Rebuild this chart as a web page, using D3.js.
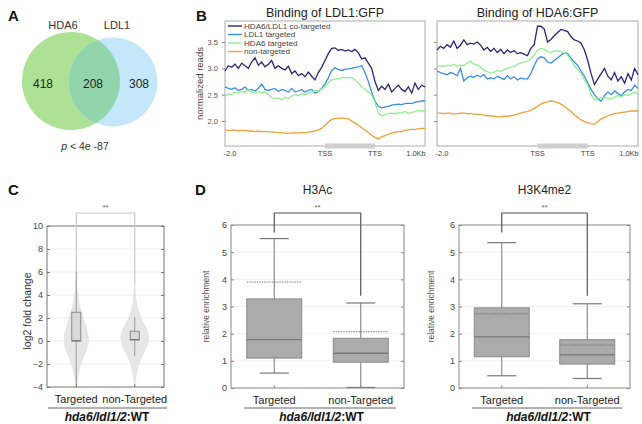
<!DOCTYPE html>
<html><head><meta charset="utf-8">
<script src="https://cdn.jsdelivr.net/npm/d3@7"></script>
<style>body{margin:0;background:#fff;} svg{display:block;font-family:"Liberation Sans",Arial,sans-serif;}</style>
</head><body><svg id="c" width="642" height="424"></svg>
<script>
// ================= DATA =================
// Panel A (Venn)
const vennSets = ["HDA6", "LDL1"];
const vennCounts = [418, 208, 308];          // HDA6 only, shared, LDL1 only
const vennPValue = "4e -87";

// Panel B (metagene profiles): 61 bins, -2.0kb..TSS (0-30), TSS..TTS (30-45), TTS..+1.0kb (45-60)
const profileSeries = ["HDA6/LDL1 co-targeted", "LDL1 targeted", "HDA6 targeted", "non-targeted"];
const profileXTicks = ["-2.0", "TSS", "TTS", "1.0Kb"];
const profileYTicks = [2.0, 2.5, 3.0, 3.5];

const ldl1CoTargeted = [2.95,3.05,3.02,3.08,3.0,3.1,3.05,3.0,3.12,3.2,3.06,3.12,3.03,3.08,3.15,3.0,3.05,3.0,2.97,3.04,2.9,2.95,2.86,2.9,2.84,2.93,2.85,2.78,2.92,3.02,3.15,
  3.28,3.38,3.39,3.34,3.36,3.33,3.35,3.32,3.36,3.3,3.18,3.2,3.1,3.0,2.75,
  2.58,2.66,2.6,2.7,2.55,2.62,2.68,2.6,2.56,2.65,2.53,2.72,2.6,2.68,2.65];
const ldl1Ldl1Targeted = [2.65,2.62,2.6,2.63,2.58,2.6,2.65,2.58,2.6,2.57,2.62,2.7,2.6,2.58,2.6,2.62,2.56,2.6,2.58,2.55,2.62,2.55,2.57,2.6,2.55,2.58,2.6,2.53,2.56,2.62,2.7,
  2.82,2.96,3.01,2.98,2.96,2.98,2.99,3.0,3.02,3.03,3.05,2.92,2.75,2.55,2.38,
  2.28,2.25,2.27,2.28,2.3,2.31,2.32,2.31,2.33,2.34,2.33,2.36,2.37,2.38,2.38];
const ldl1Hda6Targeted = [2.46,2.52,2.5,2.55,2.53,2.56,2.54,2.6,2.55,2.53,2.56,2.54,2.55,2.5,2.45,2.42,2.44,2.4,2.45,2.43,2.47,2.5,2.48,2.52,2.5,2.53,2.55,2.58,2.57,2.6,2.66,
  2.72,2.78,2.8,2.8,2.82,2.83,2.82,2.83,2.78,2.72,2.65,2.6,2.55,2.5,2.35,
  2.15,2.1,2.12,2.14,2.15,2.13,2.16,2.15,2.18,2.14,2.17,2.18,2.2,2.19,2.19];
const ldl1NonTargeted = [1.83,1.82,1.82,1.83,1.81,1.82,1.82,1.81,1.81,1.8,1.81,1.8,1.8,1.8,1.79,1.79,1.78,1.78,1.77,1.77,1.77,1.78,1.77,1.78,1.78,1.79,1.8,1.81,1.83,1.86,1.92,
  1.98,2.03,2.05,2.05,2.06,2.05,2.04,2.0,1.96,1.92,1.87,1.83,1.78,1.73,1.69,
  1.66,1.7,1.72,1.75,1.77,1.79,1.8,1.8,1.82,1.83,1.84,1.84,1.85,1.86,1.86];

const hda6CoTargeted = [3.35,3.42,3.38,3.45,3.4,3.52,3.38,3.44,3.54,3.45,3.48,3.46,3.5,3.44,3.35,3.4,3.32,3.38,3.3,3.36,3.28,3.35,3.3,3.34,3.28,3.3,3.27,3.24,3.38,3.45,3.8,
  3.8,3.75,3.5,3.55,3.62,3.68,3.74,3.72,3.7,3.6,3.54,3.52,3.48,3.35,3.15,
  2.9,2.69,2.8,2.9,3.0,2.85,2.78,2.92,2.76,2.84,2.72,2.9,2.78,3.0,2.88];
const hda6Ldl1Targeted = [2.95,2.92,2.9,2.88,2.92,2.9,2.86,3.0,2.76,2.82,2.85,2.83,2.87,2.84,2.88,2.8,2.82,2.8,2.85,2.82,2.79,2.86,2.8,2.84,2.78,2.82,2.8,2.8,2.9,3.05,3.18,
  3.22,3.2,3.12,3.1,3.15,3.2,3.25,3.3,3.28,3.2,3.12,3.05,2.95,2.85,2.72,
  2.6,2.5,2.42,2.38,2.48,2.55,2.5,2.57,2.52,2.48,2.55,2.6,2.58,2.68,2.62];
const hda6Hda6Targeted = [3.03,3.05,3.04,3.06,3.05,3.08,3.04,3.06,3.05,3.1,3.14,3.08,3.06,3.02,2.96,2.94,2.91,2.93,2.96,2.94,2.98,3.0,3.02,3.04,3.08,3.1,3.12,3.14,3.18,3.25,3.35,
  3.38,3.36,3.32,3.3,3.33,3.33,3.32,3.3,3.25,3.15,3.05,2.98,2.9,2.78,2.68,
  2.5,2.4,2.42,2.45,2.44,2.43,2.42,2.46,2.48,2.46,2.5,2.49,2.52,2.55,2.5];
const hda6NonTargeted = [2.15,2.15,2.14,2.15,2.15,2.13,2.14,2.15,2.15,2.14,2.14,2.13,2.13,2.12,2.11,2.1,2.1,2.09,2.08,2.08,2.09,2.09,2.1,2.11,2.13,2.15,2.17,2.18,2.2,2.24,2.28,
  2.32,2.35,2.37,2.38,2.37,2.35,2.32,2.28,2.23,2.18,2.12,2.07,2.02,1.99,1.97,
  1.95,1.94,1.99,2.04,2.07,2.1,2.12,2.14,2.15,2.16,2.17,2.18,2.19,2.19,2.19];

// Panel C (violin + box): categories, density profiles [value, density], box stats
const groups = ["Targeted", "non-Targeted"];
const cYTicks = [-4,-2,0,2,4,6,8,10];
const violinTargeted = [[-4,0],[-3.5,0.05],[-3,0.12],[-2.5,0.2],[-2,0.32],[-1.5,0.48],[-1,0.65],[-0.5,0.8],[0,0.88],[0.5,0.85],[1,0.75],[1.5,0.62],[2,0.5],[2.5,0.38],[3,0.26],[3.5,0.16],[4,0.1],[4.5,0.06],[5,0.03],[6,0.01],[6.2,0]];
const violinNonTargeted = [[-4,0],[-3.5,0.04],[-3,0.1],[-2.5,0.18],[-2,0.28],[-1.5,0.45],[-1,0.65],[-0.5,0.85],[0,0.97],[0.3,1.0],[0.7,0.95],[1,0.85],[1.5,0.62],[2,0.42],[2.5,0.28],[3,0.16],[3.5,0.09],[4,0.05],[4.5,0.02],[5,0]];
const boxCTargeted = [-3.8, 0, 0.02, 2.5, 6];      // low whisker, q1, median, q3, high whisker
const boxCNonTargeted = [-1.3, 0.1, 0.12, 0.85, 2.1];

// Panel D (box plots): [low whisker, q1, median, q3, high whisker, dotted mean]
const dYTicks = [0,1,2,3,4,5,6];
const h3acTargeted = [0.55, 1.1, 1.78, 3.28, 5.5, 3.9];
const h3acNonTargeted = [0.02, 0.95, 1.28, 1.83, 3.13, 2.07];
const h3k4Targeted = [0.45, 1.15, 1.88, 2.95, 5.35, 2.73];
const h3k4NonTargeted = [0.35, 0.88, 1.22, 1.78, 3.1, 1.58];
const signif = "**";
const genotypeItalic = "hda6/ldl1/2";
const genotypeSuffix = ":WT";

// ================= DRAW =================
const svg = d3.select("#c");
const font = "Liberation Sans, Arial, sans-serif";

function panelLetter(t, x, y) {
  svg.append("text").attr("x", x).attr("y", y).text(t)
    .attr("font-size", 15).attr("font-weight", "bold").attr("fill", "#111");
}
panelLetter("A", 8, 21);
panelLetter("B", 196, 21);
panelLetter("C", 8, 195);
panelLetter("D", 195, 195);

// ---------- Panel A ----------
(function () {
  const g = svg.append("g");
  const totalH = vennCounts[0] + vennCounts[1], totalL = vennCounts[1] + vennCounts[2];
  const r = d3.scaleSqrt().domain([0, totalH]).range([0, 49]);
  const cy = 81, cxH = 71, cxL = 113;
  const rH = r(totalH), rL = r(totalL);
  g.append("circle").attr("cx", cxH).attr("cy", cy).attr("r", rH).attr("fill", "#ade296");
  g.append("circle").attr("cx", cxL).attr("cy", cy + 1).attr("r", rL).attr("fill", "#c5e7fa");
  const defs = svg.append("defs");
  defs.append("clipPath").attr("id", "clipL").append("circle").attr("cx", cxL).attr("cy", cy + 1).attr("r", rL);
  g.append("circle").attr("cx", cxH).attr("cy", cy).attr("r", rH).attr("fill", "#92d5ad").attr("clip-path", "url(#clipL)");
  g.append("text").attr("x", 63).attr("y", 29).attr("text-anchor", "middle").attr("font-size", 11).attr("fill", "#333").text(vennSets[0]);
  g.append("text").attr("x", 117).attr("y", 29).attr("text-anchor", "middle").attr("font-size", 11).attr("fill", "#333").text(vennSets[1]);
  const xs = [43, 93, 139];
  vennCounts.forEach((v, i) => g.append("text").attr("x", xs[i]).attr("y", 88).attr("text-anchor", "middle")
    .attr("font-size", 12).attr("fill", "#222").text(v));
  const pt = g.append("text").attr("x", 85).attr("y", 150).attr("text-anchor", "middle").attr("font-size", 10.5).attr("fill", "#333");
  pt.append("tspan").attr("font-style", "italic").text("p");
  pt.append("tspan").text(" < " + vennPValue);
})();

// ---------- Panel B ----------
const profColors = ["#2a2777", "#3b8ee0", "#92ee92", "#f2a033"];
function profilePanel(x0, x1, title, seriesArr, showYLabels, showLegend) {
  const top = 21, bot = 146;
  const g = svg.append("g");
  const x = d3.scaleLinear().domain([0, 60]).range([x0, x1]);
  const y = d3.scaleLinear().domain([1.525, 3.9]).range([bot, top]);
  g.append("rect").attr("x", x0).attr("y", top).attr("width", x1 - x0).attr("height", bot - top)
    .attr("fill", "none").attr("stroke", "#aaa").attr("stroke-width", 1);
  const ya = d3.axisLeft(y).tickValues(profileYTicks).tickSize(3).tickFormat(showYLabels ? d3.format(".1f") : "");
  const yg = g.append("g").attr("transform", `translate(${x0},0)`).call(ya);
  yg.select(".domain").remove();
  yg.selectAll("line").attr("stroke", "#888");
  yg.selectAll("text").attr("font-size", 7.5).attr("fill", "#555").attr("font-family", font).attr("dx", -1);
  g.append("rect").attr("x", x(30)).attr("y", bot - 2.5).attr("width", x(45) - x(30)).attr("height", 5).attr("fill", "#cfcfcf");
  const tickPos = [0, 30, 45, 60];
  profileXTicks.forEach((t, i) => {
    g.append("text").attr("x", x(tickPos[i]) + (i === 0 ? 5 : i === 3 ? -9 : 0)).attr("y", 156).attr("text-anchor", "middle")
      .attr("font-size", 7.5).attr("fill", "#444").text(t);
  });
  g.append("text").attr("x", (x0 + x1) / 2).attr("y", 17).attr("text-anchor", "middle").attr("font-size", 12.5).attr("fill", "#222").text(title);
  const line = d3.line().x((d, i) => x(i)).y(d => y(d));
  seriesArr.forEach((s, k) => {
    g.append("path").datum(s).attr("d", line).attr("fill", "none").attr("stroke", profColors[k]).attr("stroke-width", 1.3);
  });
  if (showYLabels) {
    g.append("text").attr("transform", `translate(203,${(top + bot) / 2 - 0}) rotate(-90)`).attr("text-anchor", "middle")
      .attr("font-size", 9.5).attr("fill", "#444").text("normalized reads");
  }
  if (showLegend) {
    profileSeries.forEach((s, k) => {
      const yy = 26 + k * 8.5;
      g.append("line").attr("x1", x0 + 3).attr("x2", x0 + 17).attr("y1", yy).attr("y2", yy).attr("stroke", profColors[k]).attr("stroke-width", 1.4);
      g.append("text").attr("x", x0 + 19).attr("y", yy + 2.8).attr("font-size", 8.1).attr("fill", "#444").text(s);
    });
  }
}
profilePanel(225, 425, "Binding of LDL1:GFP", [ldl1CoTargeted, ldl1Ldl1Targeted, ldl1Hda6Targeted, ldl1NonTargeted], true, true);
profilePanel(437, 638, "Binding of HDA6:GFP", [hda6CoTargeted, hda6Ldl1Targeted, hda6Hda6Targeted, hda6NonTargeted], false, false);

function genotype(cx, xa, xb) {
  svg.append("line").attr("x1", xa).attr("x2", xb).attr("y1", 408).attr("y2", 408).attr("stroke", "#666").attr("stroke-width", 1);
  const t = svg.append("text").attr("x", cx).attr("y", 421).attr("text-anchor", "middle").attr("font-size", 12).attr("font-weight", "bold").attr("fill", "#111");
  t.append("tspan").attr("font-style", "italic").text(genotypeItalic);
  t.append("tspan").text(genotypeSuffix);
}

// ---------- Panel C ----------
(function () {
  const L = 47, R = 164, T = 226, B = 387;
  const g = svg.append("g");
  const y = d3.scaleLinear().domain([-4, 10]).range([B, T]);
  const x = d3.scalePoint().domain(groups).range([L, R]).padding(0.5);
  cYTicks.slice(1, -1).forEach(v => g.append("line").attr("x1", L).attr("x2", R).attr("y1", y(v)).attr("y2", y(v))
    .attr("stroke", "#eeeeee").attr("stroke-width", 1));
  const w = d3.scaleLinear().domain([0, 1]).range([0, 14]);
  const area = cx => d3.area().curve(d3.curveBasis).y(d => y(d[0])).x0(d => cx - w(d[1])).x1(d => cx + w(d[1]));
  [violinTargeted, violinNonTargeted].forEach((v, i) => {
    g.append("path").datum(v).attr("d", area(x(groups[i]))).attr("fill", "#e6e6e6").attr("stroke", "#dcdcdc").attr("stroke-width", 0.6);
  });
  const br = svg.append("g");
  const by = 213;
  br.append("path").attr("d", `M${x(groups[0])},${y(boxCTargeted[4])}V${by}H${x(groups[1])}V${y(5)}`)
    .attr("fill", "none").attr("stroke", "#c8c8c8").attr("stroke-width", 1.2);
  br.append("text").attr("x", (x(groups[0]) + x(groups[1])) / 2).attr("y", 210).attr("text-anchor", "middle").attr("font-size", 8).attr("fill", "#666").text(signif);
  [boxCTargeted, boxCNonTargeted].forEach((b, i) => {
    const cx = x(groups[i]);
    g.append("line").attr("x1", cx).attr("x2", cx).attr("y1", y(b[0])).attr("y2", y(b[4])).attr("stroke", "#9a9a9a").attr("stroke-width", 1);
    g.append("rect").attr("x", cx - 4.5).attr("y", y(b[3])).attr("width", 9).attr("height", y(b[1]) - y(b[3]))
      .attr("fill", "#d9d9d9").attr("stroke", "#8a8a8a").attr("stroke-width", 1);
    g.append("line").attr("x1", cx - 4.5).attr("x2", cx + 4.5).attr("y1", y(b[2])).attr("y2", y(b[2])).attr("stroke", "#777").attr("stroke-width", 1.2);
  });
  g.append("rect").attr("x", L).attr("y", T).attr("width", R - L).attr("height", B - T).attr("fill", "none").attr("stroke", "#777").attr("stroke-width", 1);
  const ya = d3.axisLeft(y).tickValues(cYTicks).tickSize(-3).tickPadding(4).tickFormat(d => d < 0 ? "\u2212" + Math.abs(d) : d);
  const yg = g.append("g").attr("transform", `translate(${L},0)`).call(ya);
  yg.select(".domain").remove();
  yg.selectAll("line").attr("stroke", "#777");
  yg.selectAll("text").attr("font-size", 9).attr("fill", "#444").attr("font-family", font);
  const yr = d3.axisRight(y).tickValues(cYTicks).tickSize(-3).tickFormat("");
  const yrg = g.append("g").attr("transform", `translate(${R},0)`).call(yr);
  yrg.select(".domain").remove(); yrg.selectAll("line").attr("stroke", "#777");
  groups.forEach(c => {
    g.append("line").attr("x1", x(c)).attr("x2", x(c)).attr("y1", B).attr("y2", B - 3).attr("stroke", "#777");
    g.append("text").attr("x", x(c)).attr("y", 403).attr("text-anchor", "middle").attr("font-size", 11).attr("fill", "#222").text(c);
  });
  g.append("text").attr("transform", `translate(31,311) rotate(-90)`).attr("text-anchor", "middle")
    .attr("font-size", 10.5).attr("fill", "#333").text("log2 fold change");
  genotype(107, 48, 167);
})();

// ---------- Panel D ----------
function boxPanel(L, R, title, boxes, ylabX) {
  const T = 225, B = 388;
  const g = svg.append("g");
  const y = d3.scaleLinear().domain([0, 6]).range([B, T]);
  const x = d3.scalePoint().domain(groups).range([L, R]).padding(0.5);
  dYTicks.slice(1, -1).forEach(v => g.append("line").attr("x1", L).attr("x2", R).attr("y1", y(v)).attr("y2", y(v))
    .attr("stroke", "#efefef").attr("stroke-width", 1));
  const bw = 55, cw = 29;
  boxes.forEach((b, i) => {
    const cx = x(groups[i]);
    g.append("line").attr("x1", cx).attr("x2", cx).attr("y1", y(b[0])).attr("y2", y(b[1])).attr("stroke", "#777");
    g.append("line").attr("x1", cx).attr("x2", cx).attr("y1", y(b[3])).attr("y2", y(b[4])).attr("stroke", "#777");
    [b[0], b[4]].forEach(v => g.append("line").attr("x1", cx - cw / 2).attr("x2", cx + cw / 2).attr("y1", y(v)).attr("y2", y(v)).attr("stroke", "#777").attr("stroke-width", 1.2));
    g.append("rect").attr("x", cx - bw / 2).attr("y", y(b[3])).attr("width", bw).attr("height", y(b[1]) - y(b[3]))
      .attr("fill", "#ababab").attr("stroke", "#8a8a8a").attr("stroke-width", 1);
    g.append("line").attr("x1", cx - bw / 2).attr("x2", cx + bw / 2).attr("y1", y(b[2])).attr("y2", y(b[2])).attr("stroke", "#777").attr("stroke-width", 1.3);
    g.append("line").attr("x1", cx - bw / 2).attr("x2", cx + bw / 2).attr("y1", y(b[5])).attr("y2", y(b[5])).attr("stroke", "#777")
      .attr("stroke-width", 1).attr("stroke-dasharray", "1.5,1");
  });
  g.append("rect").attr("x", L).attr("y", T).attr("width", R - L).attr("height", B - T).attr("fill", "none").attr("stroke", "#888").attr("stroke-width", 1);
  const ya = d3.axisLeft(y).tickValues(dYTicks).tickSize(-3).tickPadding(4).tickFormat(d3.format("d"));
  const yg = g.append("g").attr("transform", `translate(${L},0)`).call(ya);
  yg.select(".domain").remove(); yg.selectAll("line").attr("stroke", "#888");
  yg.selectAll("text").attr("font-size", 9).attr("fill", "#444").attr("font-family", font);
  const yr = d3.axisRight(y).tickValues(dYTicks).tickSize(-3).tickFormat("");
  const yrg = g.append("g").attr("transform", `translate(${R},0)`).call(yr);
  yrg.select(".domain").remove(); yrg.selectAll("line").attr("stroke", "#888");
  groups.forEach(c => {
    g.append("line").attr("x1", x(c)).attr("x2", x(c)).attr("y1", B).attr("y2", B - 3).attr("stroke", "#888");
    g.append("text").attr("x", x(c)).attr("y", 404).attr("text-anchor", "middle").attr("font-size", 11).attr("fill", "#222").text(c);
  });
  g.append("text").attr("transform", `translate(${ylabX},${(T + B) / 2}) rotate(-90)`).attr("text-anchor", "middle")
    .attr("font-size", 8.5).attr("fill", "#555").text("relative enrichment");
  g.append("text").attr("x", (L + R) / 2).attr("y", 194).attr("text-anchor", "middle").attr("font-size", 12).attr("fill", "#222").text(title);
  const by = 213;
  const x0 = x(groups[0]), x1 = x(groups[1]);
  g.append("path").attr("d", `M${x0},${y(5.72)}V${by}H${x1}V${y(3.4)}`).attr("fill", "none").attr("stroke", "#555").attr("stroke-width", 1.2);
  g.append("text").attr("x", (x0 + x1) / 2).attr("y", 210).attr("text-anchor", "middle").attr("font-size", 8).attr("fill", "#666").text(signif);
  genotype((L + R) / 2 + 4, L + 13, R - 8);
}
boxPanel(231, 404, "H3Ac", [h3acTargeted, h3acNonTargeted], 209);
boxPanel(459, 630, "H3K4me2", [h3k4Targeted, h3k4NonTargeted], 434);
</script></body></html>
